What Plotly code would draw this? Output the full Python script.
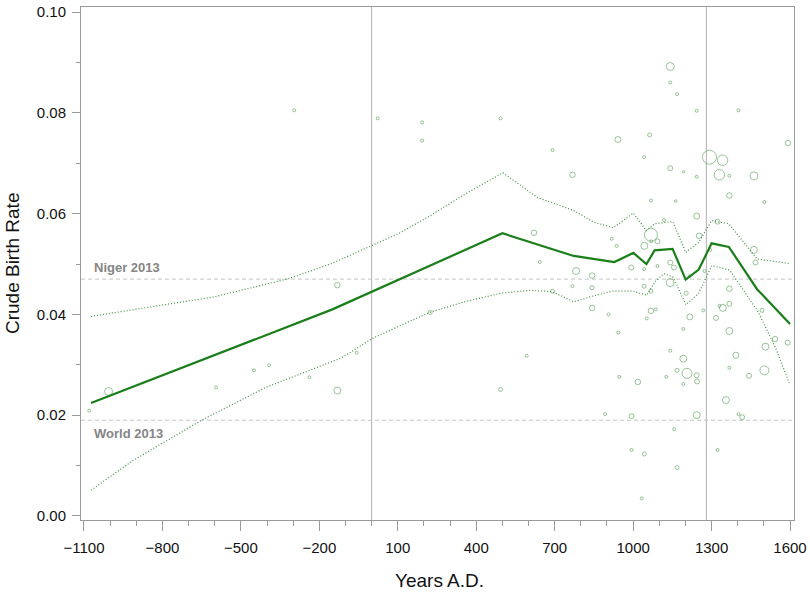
import plotly.graph_objects as go

# ---------------- data ----------------
obs_year = [-1080, -1006, -595, -450, -392, -296, -238, -131, -131, -57, 23, 193, 193, 224,
            493, 493, 593, 621, 643, 692, 692, 768, 768, 782, 843, 843, 843, 893, 906, 918,
            937, 942, 943, 947, 993, 994, 994, 1018, 1033, 1042, 1042, 1042, 1043, 1043,
            1052, 1063, 1068, 1068, 1068, 1068, 1069, 1087, 1093, 1093, 1118, 1127, 1142,
            1142, 1142, 1142, 1142, 1142, 1156, 1157, 1163, 1168, 1168, 1168, 1192, 1192,
            1192, 1193, 1203, 1206, 1216, 1217, 1243, 1243, 1243, 1243, 1244, 1243, 1252,
            1268, 1273, 1292, 1295, 1317, 1323, 1323, 1330, 1330, 1342, 1343, 1355, 1368,
            1368, 1368, 1368, 1368, 1368, 1393, 1403, 1403, 1417, 1443, 1462, 1462, 1468,
            1493, 1502, 1502, 1506, 1543, 1591, 1592, 1142]
obs_cbr = [0.0209, 0.0247, 0.0255, 0.0289, 0.0299, 0.0805, 0.0275, 0.0458, 0.0249, 0.0324,
           0.0789, 0.0781, 0.0745, 0.0404, 0.0789, 0.0251, 0.0318, 0.0562, 0.0504, 0.0726,
           0.0446, 0.0677, 0.0456, 0.0486, 0.0477, 0.0453, 0.0413, 0.0202, 0.0400, 0.0550,
           0.0536, 0.0747, 0.0364, 0.0276, 0.0493, 0.0198, 0.0131, 0.0266, 0.0035, 0.0712,
           0.0490, 0.0456, 0.0536, 0.0123, 0.0392, 0.0756, 0.0626, 0.0558, 0.0446, 0.0407,
           0.0545, 0.0410, 0.0545, 0.0496, 0.0587, 0.0276, 0.0892, 0.0860, 0.0690, 0.0503,
           0.0463, 0.0328, 0.0493, 0.0172, 0.0625, 0.0837, 0.0289, 0.0096, 0.0371, 0.0312,
           0.0262, 0.0683, 0.0442, 0.0283, 0.0476, 0.0395, 0.0804, 0.0673, 0.0595, 0.0279,
           0.0267, 0.0200, 0.0556, 0.0408, 0.0486, 0.0712, 0.0528, 0.0393, 0.0584, 0.0131,
           0.0677, 0.0417, 0.0706, 0.0413, 0.0230, 0.0675, 0.0636, 0.0451, 0.0421, 0.0367,
           0.0294, 0.0319, 0.0805, 0.0202, 0.0196, 0.0278, 0.0675, 0.0528, 0.0503, 0.0408,
           0.0623, 0.0289, 0.0336, 0.0351, 0.0344, 0.0740, 0.1020]
obs_weight = [3, 8, 3, 3, 3, 3, 3, 5.5, 7, 3, 3, 3, 3, 4, 3, 4, 3, 5.5, 3, 3, 4, 5.5, 3, 7,
              5.5, 4, 5.5, 3, 3, 3, 3, 6, 3, 3, 5, 5, 3, 5.5, 3, 3, 3, 4, 7, 4, 3, 4, 3,
              13, 4, 5.5, 3, 3, 5, 3, 3, 3, 8, 3, 5, 5, 8, 3, 5, 3, 2.5, 3, 4, 4, 3, 7, 3,
              2.5, 4, 10, 3, 6, 3, 3, 6, 5, 5, 7, 5.5, 3, 3, 14, 3, 5, 5, 3, 10.5, 3, 10.5,
              7, 7, 3, 5.5, 5.5, 5, 7, 3, 6, 3, 3, 5, 5, 8, 7, 5, 4, 3, 9, 7, 5.5, 5, 5.5, 4]

fit_year = [-1073, -150, 500, 773, 928, 1001, 1051, 1082, 1151, 1201, 1251, 1300, 1366, 1474, 1600]
fit_cbr = [0.0224, 0.0410, 0.0561, 0.0516, 0.0504, 0.0522, 0.0500, 0.0527, 0.0530, 0.0469,
           0.0489, 0.0541, 0.0534, 0.0450, 0.0381]

upper_year = [-1073, -800, -600, -317, -152, 2, 102, 228, 355, 502, 634, 773, 849, 925, 1001,
              1051, 1083, 1152, 1201, 1251, 1300, 1366, 1474, 1597]
upper_cbr = [0.0396, 0.0418, 0.0435, 0.0471, 0.0501, 0.0537, 0.0560, 0.0597, 0.0638, 0.0681,
             0.0632, 0.0606, 0.0583, 0.0572, 0.0601, 0.0566, 0.0580, 0.0584, 0.0523, 0.0543,
             0.0586, 0.0580, 0.0510, 0.0501]

lower_year = [-1073, -913, -643, -405, -114, 2, 102, 222, 355, 494, 608, 691, 773, 856, 919,
              1001, 1052, 1084, 1118, 1153, 1202, 1251, 1301, 1369, 1477, 1545, 1597]
lower_cbr = [0.0051, 0.0110, 0.0192, 0.0255, 0.0314, 0.0352, 0.0376, 0.0404, 0.0425, 0.0442,
             0.0448, 0.0445, 0.0425, 0.0438, 0.0446, 0.0446, 0.0438, 0.0465, 0.0481, 0.0474,
             0.0419, 0.0442, 0.0497, 0.0488, 0.0406, 0.0333, 0.0264]

ref_years = [0, 1280]
ref_rates = [0.047, 0.019]
ref_names = ["Niger 2013", "World 2013"]

x_ticks = [-1100, -800, -500, -200, 100, 400, 700, 1000, 1300, 1600]
x_tick_text = ["\u22121100", "\u2212800", "\u2212500", "\u2212200", "100", "400", "700",
               "1000", "1300", "1600"]
y_ticks = [0.00, 0.02, 0.04, 0.06, 0.08, 0.10]
y_tick_text = ["0.00", "0.02", "0.04", "0.06", "0.08", "0.10"]

# ---------------- figure ----------------
FONT = "Liberation Sans, Arial, Helvetica, sans-serif"
AXIS_GRAY = "#9a9a9a"

fig = go.Figure()

fig.add_trace(go.Scatter(
    x=obs_year, y=obs_cbr, mode="markers",
    marker=dict(symbol="circle-open", size=obs_weight,
                color="rgba(95,160,95,0.9)", line=dict(width=1)),
    hoverinfo="x+y", showlegend=False))

fig.add_trace(go.Scatter(
    x=upper_year, y=upper_cbr, mode="lines",
    line=dict(color="#3f903f", width=1.2, dash="1px,2px"), showlegend=False))
fig.add_trace(go.Scatter(
    x=lower_year, y=lower_cbr, mode="lines",
    line=dict(color="#3f903f", width=1.2, dash="1px,2px"), showlegend=False))
fig.add_trace(go.Scatter(
    x=fit_year, y=fit_cbr, mode="lines",
    line=dict(color="#1a7f1a", width=2.2), showlegend=False))

for yr in ref_years:
    fig.add_shape(type="line", xref="x", yref="paper", x0=yr, x1=yr, y0=0, y1=1,
                  line=dict(color="#b0b0b0", width=1), layer="below")
for rate, name in zip(ref_rates, ref_names):
    fig.add_shape(type="line", xref="paper", yref="y", x0=0, x1=1, y0=rate, y1=rate,
                  line=dict(color="#c4c4c4", width=1, dash="4px,3px"), layer="below")
    fig.add_annotation(x=-1068, y=rate, xref="x", yref="y",
                       text=name, showarrow=False, xanchor="left",
                       yanchor="bottom" if rate > 0.03 else "top",
                       yshift=2 if rate > 0.03 else -4,
                       font=dict(family=FONT, size=13, color="#858585", weight="bold"))

fig.add_annotation(x=0.503, y=-0.118, xref="paper", yref="paper", text="Years A.D.",
                   showarrow=False, xanchor="center", yanchor="middle",
                   font=dict(family=FONT, size=19, color="#111"))
fig.add_annotation(x=-0.096, y=0.5, xref="paper", yref="paper", text="Crude Birth Rate",
                   showarrow=False, textangle=-90, xanchor="center", yanchor="middle",
                   font=dict(family=FONT, size=19, color="#111"))

fig.update_layout(
    width=810, height=595,
    margin=dict(l=81, r=12, t=3, b=75),
    paper_bgcolor="white", plot_bgcolor="white",
    font=dict(family=FONT, size=15, color="#111"),
    xaxis=dict(range=[-1111.4, 1615.2], tickvals=x_ticks, ticktext=x_tick_text,
               showgrid=False, zeroline=False, showline=True, mirror=True,
               linecolor=AXIS_GRAY, linewidth=1, ticks="outside", ticklen=10,
               tickcolor=AXIS_GRAY, ticklabelstandoff=4, ticklabeloverflow="allow",
               minor=dict(ticks="outside", ticklen=5, tick0=-1100, dtick=100,
                          tickcolor=AXIS_GRAY, showgrid=False)),
    yaxis=dict(range=[-0.0008, 0.1010], tickvals=y_ticks, ticktext=y_tick_text,
               showgrid=False, zeroline=False, showline=True, mirror=True,
               linecolor=AXIS_GRAY, linewidth=1, ticks="outside", ticklen=8,
               tickcolor=AXIS_GRAY, ticklabelstandoff=3, ticklabeloverflow="allow",
               minor=dict(ticks="outside", ticklen=4, tick0=0, dtick=0.01,
                          tickcolor=AXIS_GRAY, showgrid=False)),
)

fig.write_html("out.html",
               config={"displayModeBar": False},
               post_script="document.body.style.margin='0';document.body.style.padding='0';"
                           "document.documentElement.style.overflow='hidden';")
